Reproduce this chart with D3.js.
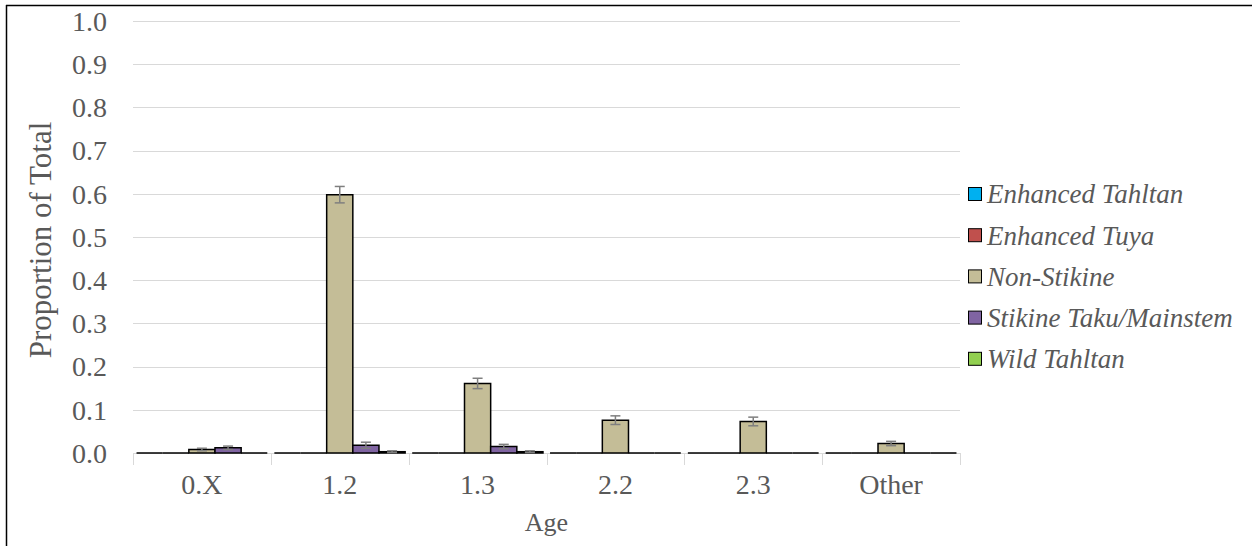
<!DOCTYPE html>
<html>
<head>
<meta charset="utf-8">
<script src="https://cdn.jsdelivr.net/npm/d3@7"></script>
<style>
  body { margin: 0; background: #fff; }
  svg { display: block; }
</style>
</head>
<body>
<div id="chart"></div>
<script>
// Categories and series
const ages = ["0.X", "1.2", "1.3", "2.2", "2.3", "Other"];
const groups = ["Enhanced Tahltan", "Enhanced Tuya", "Non-Stikine", "Stikine Taku/Mainstem", "Wild Tahltan"];
const colors = ["#00B0F0", "#C0504D", "#C4BD97", "#8064A2", "#92D050"];

// proportions per group, one value per age
const enhancedTahltan = [0, 0, 0, 0, 0, 0];
const enhancedTuya = [0, 0, 0, 0, 0, 0];
const nonStikine = [0.008, 0.598, 0.161, 0.076, 0.073, 0.022];
const stikineTaku = [0.012, 0.018, 0.015, 0, 0, 0];
const wildTahltan = [0, 0.003, 0.003, 0, 0, 0];

// error bar half widths
const errEnhancedTahltan = [0, 0, 0, 0, 0, 0];
const errEnhancedTuya = [0, 0, 0, 0, 0, 0];
const errNonStikine = [0.003, 0.019, 0.012, 0.010, 0.010, 0.005];
const errStikineTaku = [0.004, 0.007, 0.005, 0, 0, 0];
const errWildTahltan = [0, 0.002, 0.002, 0, 0, 0];

const yTicks = [0, 0.1, 0.2, 0.3, 0.4, 0.5, 0.6, 0.7, 0.8, 0.9, 1.0];

const values = [enhancedTahltan, enhancedTuya, nonStikine, stikineTaku, wildTahltan];
const errors = [errEnhancedTahltan, errEnhancedTuya, errNonStikine, errStikineTaku, errWildTahltan];

const FONT = '"Liberation Serif"';
const W = 1252, H = 546;
const plot = { left: 133, right: 960, top: 21, bottom: 453 };

const svg = d3.select("#chart").append("svg")
    .attr("width", W)
    .attr("height", H);

// frame lines (top and left only visible)
svg.append("line").attr("x1", 6).attr("x2", W).attr("y1", 5.5).attr("y2", 5.5)
    .attr("stroke", "#000").attr("stroke-width", 1.5);
svg.append("line").attr("x1", 6.5).attr("x2", 6.5).attr("y1", 5).attr("y2", H)
    .attr("stroke", "#000").attr("stroke-width", 1.5);

const x = d3.scaleBand().domain(ages).range([plot.left, plot.right]).paddingInner(0).paddingOuter(0);
const xs = d3.scaleBand().domain(groups).range([0, x.bandwidth()]).paddingInner(0).paddingOuter(0.135);
const y = d3.scaleLinear().domain([0, 1]).range([plot.bottom, plot.top]);

// gridlines
svg.append("g").selectAll("line")
    .data(yTicks.slice(1))
    .join("line")
    .attr("x1", plot.left).attr("x2", plot.right)
    .attr("y1", d => Math.round(y(d)) + 0.5).attr("y2", d => Math.round(y(d)) + 0.5)
    .attr("stroke", "#d9d9d9").attr("stroke-width", 1);

// y tick labels
svg.append("g").selectAll("text")
    .data(yTicks)
    .join("text")
    .attr("x", 107)
    .attr("y", d => y(d))
    .attr("dy", "0.35em")
    .attr("text-anchor", "end")
    .style("font-family", FONT)
    .attr("font-size", 28)
    .attr("fill", "#595959")
    .text(d3.format(".1f"));

// x axis line and category ticks
svg.append("line")
    .attr("x1", plot.left).attr("x2", plot.right)
    .attr("y1", plot.bottom + 0.5).attr("y2", plot.bottom + 0.5)
    .attr("stroke", "#d9d9d9").attr("stroke-width", 1);
const bounds = ages.map(a => x(a)).concat([plot.right]);
svg.append("g").selectAll("line")
    .data(bounds)
    .join("line")
    .attr("x1", d => Math.round(d) + 0.5).attr("x2", d => Math.round(d) + 0.5)
    .attr("y1", plot.bottom).attr("y2", plot.bottom + 12)
    .attr("stroke", "#d9d9d9").attr("stroke-width", 1);

// bars
const barData = [];
ages.forEach((a, i) => {
    groups.forEach((g, j) => {
        barData.push({ age: a, group: g, j: j, v: values[j][i], e: errors[j][i] });
    });
});

svg.append("g").selectAll("path")
    .data(barData)
    .join("path")
    .attr("d", d => {
        const x0 = x(d.age) + xs(d.group);
        const w = xs.bandwidth();
        const y0 = y(0), y1 = y(d.v);
        return `M${x0},${y0}V${y1}H${x0 + w}V${y0}Z`;
    })
    .attr("fill", d => colors[d.j])
    .attr("stroke", "#000")
    .attr("stroke-width", 1.5);

// error bars
const eb = svg.append("g").selectAll("g")
    .data(barData.filter(d => d.e > 0))
    .join("g")
    .attr("stroke", "#7f7f7f")
    .attr("stroke-width", 1.5);
eb.append("line")
    .attr("x1", d => x(d.age) + xs(d.group) + xs.bandwidth() / 2)
    .attr("x2", d => x(d.age) + xs(d.group) + xs.bandwidth() / 2)
    .attr("y1", d => y(d.v + d.e))
    .attr("y2", d => y(Math.max(0, d.v - d.e)));
[1, -1].forEach(s => {
    eb.append("line")
        .attr("x1", d => x(d.age) + xs(d.group) + xs.bandwidth() / 2 - 5)
        .attr("x2", d => x(d.age) + xs(d.group) + xs.bandwidth() / 2 + 5)
        .attr("y1", d => y(Math.max(0, d.v + s * d.e)))
        .attr("y2", d => y(Math.max(0, d.v + s * d.e)));
});

// x tick labels
svg.append("g").selectAll("text")
    .data(ages)
    .join("text")
    .attr("x", d => x(d) + x.bandwidth() / 2)
    .attr("y", 494)
    .attr("text-anchor", "middle")
    .style("font-family", FONT)
    .attr("font-size", 28)
    .attr("fill", "#595959")
    .text(d => d);

// axis titles
svg.append("text")
    .attr("x", (plot.left + plot.right) / 2)
    .attr("y", 531)
    .attr("text-anchor", "middle")
    .style("font-family", FONT)
    .attr("font-size", 26)
    .attr("fill", "#595959")
    .text("Age");

svg.append("text")
    .attr("transform", `translate(51,240) rotate(-90)`)
    .attr("text-anchor", "middle")
    .style("font-family", FONT)
    .attr("font-size", 31)
    .attr("fill", "#595959")
    .text("Proportion of Total");

// legend
const legend = svg.append("g").selectAll("g")
    .data(groups)
    .join("g")
    .attr("transform", (d, i) => `translate(968,${194 + i * 41.2})`);
legend.append("rect")
    .attr("x", 0.5).attr("y", -6.5)
    .attr("width", 13).attr("height", 13)
    .attr("fill", (d, i) => colors[i])
    .attr("stroke", "#000").attr("stroke-width", 1);
legend.append("text")
    .attr("x", 19)
    .attr("y", 0)
    .attr("dy", "0.35em")
    .style("font-family", FONT)
    .attr("font-style", "italic")
    .attr("font-size", 27)
    .attr("fill", "#595959")
    .text(d => d);
</script>
</body>
</html>
